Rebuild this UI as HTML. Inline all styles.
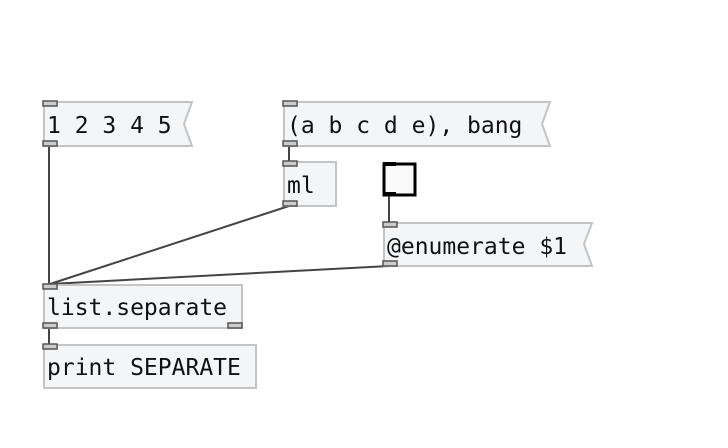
<!DOCTYPE html>
<html><head><meta charset="utf-8"><style>
html,body{margin:0;padding:0;background:#fff;}
svg{display:block;}
text{font-family:"DejaVu Sans Mono","Liberation Mono",monospace;font-size:23px;fill:#111;}
</style></head><body>
<svg width="728" height="448" viewBox="0 0 728 448">
<g stroke="#444" stroke-width="2" fill="none">
<line x1="49" y1="146" x2="49" y2="284"/>
<line x1="289" y1="206" x2="50" y2="284"/>
<line x1="389" y1="266" x2="50" y2="284"/>
<line x1="289" y1="146" x2="289" y2="161"/>
<line x1="389" y1="196" x2="389" y2="222"/>
<line x1="49" y1="328" x2="49" y2="344"/>
</g>
<!-- message 1 2 3 4 5 -->
<g>
<path d="M44,102 H192 L184,124 L192,146 H44 Z" fill="#f4f5f7" stroke="#c4c4c4" stroke-width="2"/>
<text x="47" y="133">1 2 3 4 5</text>
<rect x="43" y="101" width="14" height="5" fill="#ccc" stroke="#555" stroke-width="1.5"/>
<rect x="43" y="141" width="14" height="5" fill="#ccc" stroke="#555" stroke-width="1.5"/>
</g>
<g>
<path d="M284,102 H550 L542,124 L550,146 H284 Z" fill="#f4f5f7" stroke="#c4c4c4" stroke-width="2"/>
<text x="287" y="133">(a b c d e), bang</text>
<rect x="283" y="101" width="14" height="5" fill="#ccc" stroke="#555" stroke-width="1.5"/>
<rect x="283" y="141" width="14" height="5" fill="#ccc" stroke="#555" stroke-width="1.5"/>
</g>
<g>
<rect x="284" y="162" width="52" height="44" fill="#f4f5f7" stroke="#c4c4c4" stroke-width="2"/>
<text x="287" y="193">ml</text>
<rect x="283" y="161" width="14" height="5" fill="#ccc" stroke="#555" stroke-width="1.5"/>
<rect x="283" y="201" width="14" height="5" fill="#ccc" stroke="#555" stroke-width="1.5"/>
</g>
<g>
<rect x="384" y="164" width="31" height="31" fill="#fafafa" stroke="#000" stroke-width="3"/>
<rect x="383" y="162" width="13" height="4" fill="#000"/>
<rect x="383" y="192" width="13" height="4" fill="#000"/>
</g>
<g>
<path d="M384,223 H592 L584,244 L592,266 H384 Z" fill="#f4f5f7" stroke="#c4c4c4" stroke-width="2"/>
<text x="387" y="254">@enumerate $1</text>
<rect x="383" y="222" width="14" height="5" fill="#ccc" stroke="#555" stroke-width="1.5"/>
<rect x="383" y="261" width="14" height="5" fill="#ccc" stroke="#555" stroke-width="1.5"/>
</g>
<g>
<rect x="44" y="285" width="198" height="43" fill="#f4f5f7" stroke="#c4c4c4" stroke-width="2"/>
<text x="47" y="315">list.separate</text>
<rect x="43" y="284" width="14" height="5" fill="#ccc" stroke="#555" stroke-width="1.5"/>
<rect x="43" y="323" width="14" height="5" fill="#ccc" stroke="#555" stroke-width="1.5"/>
<rect x="228" y="323" width="14" height="5" fill="#ccc" stroke="#555" stroke-width="1.5"/>
</g>
<g>
<rect x="44" y="345" width="212" height="43" fill="#f4f5f7" stroke="#c4c4c4" stroke-width="2"/>
<text x="47" y="375">print SEPARATE</text>
<rect x="43" y="344" width="14" height="5" fill="#ccc" stroke="#555" stroke-width="1.5"/>
</g>
</svg>
</body></html>
